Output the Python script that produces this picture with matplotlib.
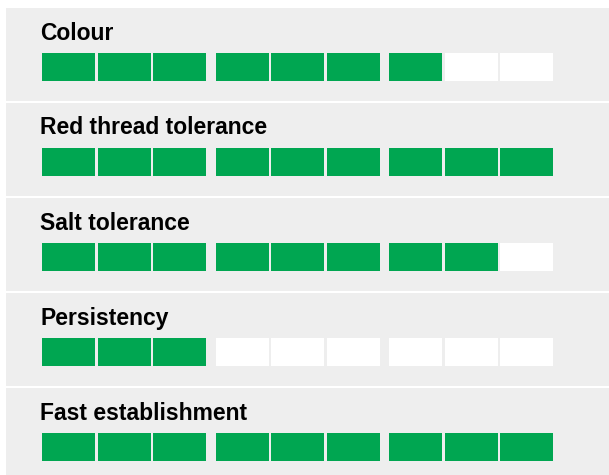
import matplotlib.pyplot as plt
from matplotlib.patches import Rectangle

# Trait scores out of 9
traits = ['Colour', 'Red thread tolerance', 'Salt tolerance', 'Persistency', 'Fast establishment']
scores = [7, 9, 8, 3, 9]
max_score = 9

green = '#00a651'
panel_grey = '#eeeeee'

W, H = 609, 475
fig = plt.figure(figsize=(W / 100, H / 100), dpi=100)
ax = fig.add_axes([0, 0, 1, 1])
ax.set_xlim(0, W)
ax.set_ylim(H, 0)
ax.axis('off')

panel_top, panel_step, panel_h = 8, 95, 93
block_x0, group_step, block_step, block_w = 42, 173.5, 55.5, 53
block_dy, block_h = 44.5, 28

for i, (name, score) in enumerate(zip(traits, scores)):
    top = panel_top + i * panel_step
    ax.add_patch(Rectangle((6, top), W - 6, panel_h, facecolor=panel_grey, edgecolor='none'))
    ax.text(40, top + 31.5, name, fontsize=16.5, fontweight='bold',
            family='Liberation Sans', color='black', va='baseline', ha='left')
    xs = [block_x0 + (k // 3) * group_step + (k % 3) * block_step for k in range(max_score)]
    cols = [green if k < score else 'white' for k in range(max_score)]
    ax.bar(xs, block_h, width=block_w, bottom=top + block_dy, align='edge',
           color=cols, edgecolor='none')

fig.savefig('out.png', dpi=100)
